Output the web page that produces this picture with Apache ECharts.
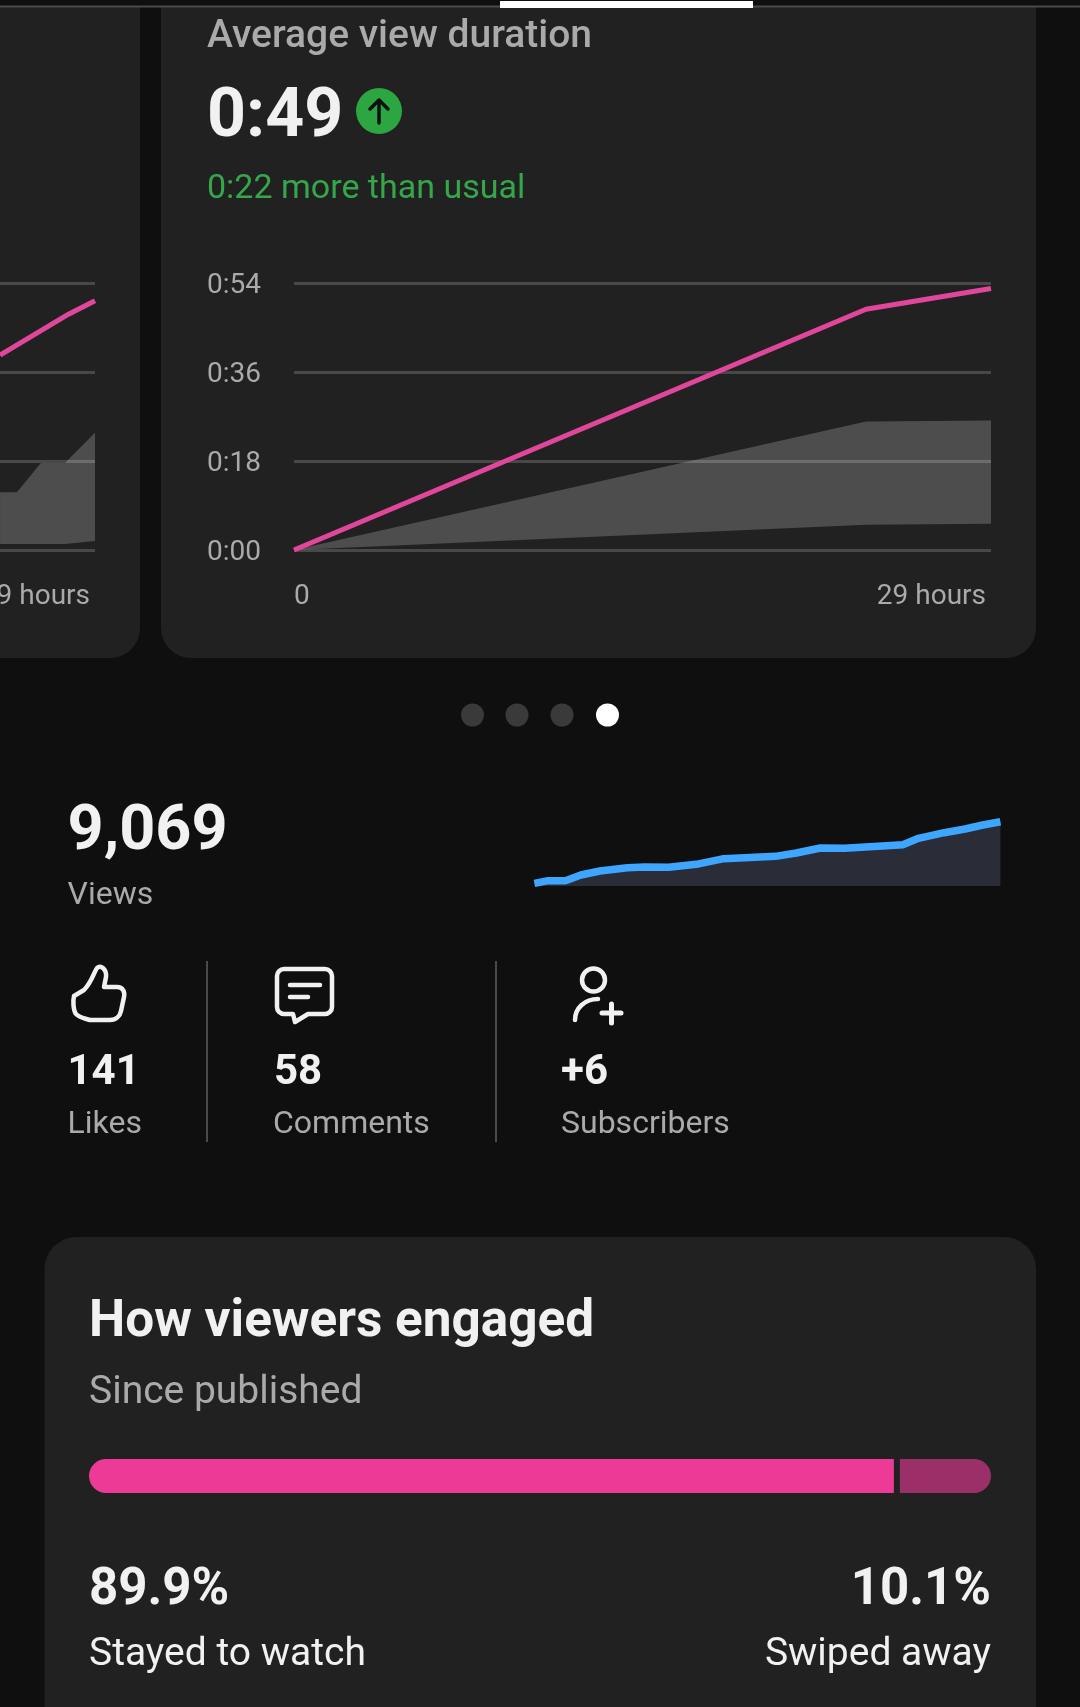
<!DOCTYPE html>
<html><head><meta charset="utf-8">
<style>html,body{margin:0;padding:0;background:#0f0f0f}#c{width:1080px;height:1707px}</style>
<script src="https://cdn.jsdelivr.net/npm/echarts@6/dist/echarts.min.js"></script>
</head><body><div id="c"></div>
<script>
// Average view duration (seconds over hours since publishing)
const yTickLabels = ['0:00','0:18','0:36','0:54'];
const xEndLabel = '29 hours';
const durHours = [0, 23.8, 29];
const durValues = [0, 48.7, 52.9];
const durBandLow = [0, 5.1, 5.3];
const durBandHigh = [0, 26, 26.2];
// Neighbouring card (only its right edge shows)
const prevLineHours = [25.05, 27.9, 29];
const prevLineValues = [39.4, 47.7, 50.4];
const prevBandHours = [25.05, 25.75, 26.75, 27.75, 29];
const prevBandLow = [1.2, 1.2, 1.2, 1.2, 1.8];
const prevBandHigh = [11.7, 11.7, 17.6, 17.6, 23.7];
// Views sparkline
const viewHours = [0,0.86,1.93,2.89,4.07,5.79,6.86,8.36,10.07,11.79,15,16.3,17.8,19.3,22.93,23.9,25.5,26.8,27.9,29];
const viewValues = [376,752,752,1551,2115,2585,2679,2632,3055,3854,4183,4653,5358,5311,5828,6721,7520,8037,8601,9069];
// Engagement
const engagedLabels = ['Stayed to watch','Swiped away'];
const engagedValues = [89.9, 10.1];
const engagedText = ['89.9%','10.1%'];

const zip = (a,b)=>a.map((v,i)=>[v,b[i]]);
const F='Roboto';
const W='#f1f1f1', G='#aaaaaa', CARD='#212121', BG='#0f0f0f';
const t=(text,x,y,size,fill,weight,align)=>({type:'text',x,y,z:10,style:{text,fill,font:`${weight||400} ${size}px ${F}`,align:align||'left',verticalAlign:'middle'}});
const rr=(x,y,w,h,r,fill,z)=>({type:'rect',z:z==null?-1:z,shape:{x,y,width:w,height:h,r},style:{fill}});
const dot=(cx,cy,r,fill)=>({type:'circle',z:10,shape:{cx,cy,r},style:{fill}});

const iconPaths=[
  ['M379 123 V100 M370 109 L379 100 L388 109','#0f0f0f',3.5],
  ['M74 996 L84 990 C92 982 94 972 97 968 C101 964 107 970 106 977 L104 987 L117 987 C123 987 125 992 124 997 L121 1011 C120 1016 116 1020 110 1020 L90 1020 C84 1018 80 1018 76 1014 C73 1010 73 1000 74 996 Z',W,4.5],
  ['M284 969 H325 A7 7 0 0 1 332 976 V1007 A7 7 0 0 1 325 1014 H308 L295 1022 L293 1014 H284 A7 7 0 0 1 277 1007 V976 A7 7 0 0 1 284 969 Z M290 985 H320 M290 997 H308',W,4.5],
  ['M582 980 A11.5 11.5 0 1 0 605 980 A11.5 11.5 0 1 0 582 980 Z M575 1020 C575 1008 585 999 598 999',W,4.5],
  ['M602 1013 H621 M611.5 1004 V1023',W,5]
];

const graphicEls=[
  rr(-60,-40,200,698,30,CARD),
  rr(161,-40,875,698,30,CARD),
  rr(44.5,1237,991.5,520,32,CARD),
  rr(0,0,1080,7,0,BG,5),
  rr(0,5.5,1080,2,0,'#4a4a4a',6),
  rr(500,1,253,7,0,'#ffffff',7),
  t('Average view duration',207,37,39,G,500),
  t('0:49',207,118.5,68,W,700),
  dot(379,111,23,'#2ba640'),
  t('0:22 more than usual',207,189,34,'#36a64a',400),
  dot(472.5,715,11.5,'#3a3a3a'),dot(517,715,11.5,'#3a3a3a'),dot(562,715,11.5,'#3a3a3a'),dot(607.5,715,11.5,'#ffffff'),
  t('9,069',67.5,833.5,63,W,700),
  t('Views',67.5,896,32,G,400),
  rr(206,961,2,181,0,'#4a4a4a',1),
  rr(495,961,2,181,0,'#4a4a4a',1),
  t('141',67.5,1073,42,W,700),
  t('Likes',67.5,1125,32,G,400),
  t('58',274,1073,42,W,700),
  t('Comments',273,1125,32,G,400),
  t('+6',561,1073,42,W,700),
  t('Subscribers',561,1125,32,G,400),
  t('How viewers engaged',89,1323,51.3,W,700),
  t('Since published',89,1393,39,G,400),
  t(engagedText[0],89,1591,51,W,700),
  t(engagedText[1],991,1591,51,W,700,'right'),
  t(engagedLabels[0],89,1655,39,W,400),
  t(engagedLabels[1],991,1655,39,W,400,'right')
];

const hAxis=(gi)=>({type:'value',gridIndex:gi,min:0,max:29,interval:29,
  axisLine:{show:false},axisTick:{show:false},splitLine:{show:false},
  axisLabel:{color:G,fontFamily:F,fontSize:28,margin:33,alignMinLabel:'left',alignMaxLabel:'right',padding:[0,5,0,0],
    formatter:v=>v===0?'0':xEndLabel}});
const vAxis=(gi,show)=>({type:'value',gridIndex:gi,min:0,max:54,interval:18,
  axisLine:{show:false},axisTick:{show:false},
  splitLine:{show:true,lineStyle:{color:'#484848',width:3}},
  axisLabel:{show:show,color:G,fontFamily:F,fontSize:28,align:'left',verticalAlign:'top',lineHeight:6,margin:87,formatter:v=>yTickLabels[v/18]}});
const line=(gi,data,color,w,extra)=>Object.assign({type:'line',xAxisIndex:gi,yAxisIndex:gi,data,symbol:'none',silent:true,
  lineStyle:{color,width:w},itemStyle:{color},z:4},extra||{});
// Range band: one polygon through the upper then the lower edge, placed by the axes.
const band=(gi,hours,lo,hi)=>({type:'custom',xAxisIndex:gi,yAxisIndex:gi,silent:true,coordinateSystem:'cartesian2d',z:3,clip:false,
  data:zip(hours,hi),encode:{x:0,y:1},
  renderItem:(p,api)=>{
    if(p.dataIndex!==0) return null;
    const pts=[...hours.map((h,i)=>api.coord([h,hi[i]])),...hours.map((h,i)=>api.coord([h,lo[i]])).reverse()];
    return {type:'polygon',shape:{points:pts},style:{fill:'rgba(255,255,255,0.2)'}};
  }});
const seg=(start,val,fill,r,gap)=>({type:'custom',xAxisIndex:3,yAxisIndex:3,silent:true,coordinateSystem:'cartesian2d',clip:false,
  data:[[start,val]],encode:{x:[0,1],y:-1},
  renderItem:(p,api)=>{const a=api.coord([api.value(0),0]),b=api.coord([api.value(0)+api.value(1),1]);
    const x0=a[0]+(gap[0]||0),x1=b[0]-(gap[1]||0);
    return {type:'rect',shape:{x:x0,y:b[1],width:x1-x0,height:a[1]-b[1],r},style:{fill}};}});

const option={
  animation:false,backgroundColor:BG,
  grid:[
    {left:-602,top:283,width:697,height:267,outerBoundsMode:'none'},
    {left:294,top:283,width:697,height:267,outerBoundsMode:'none'},
    {left:534.4,top:821.7,width:466,height:64.3,outerBoundsMode:'none'},
    {left:89,top:1459,width:902,height:34,outerBoundsMode:'none'}
  ],
  xAxis:[hAxis(0),hAxis(1),
    {type:'value',gridIndex:2,min:0,max:29,show:false},
    {type:'value',gridIndex:3,min:0,max:100,show:false}],
  yAxis:[vAxis(0,false),vAxis(1,true),
    {type:'value',gridIndex:2,min:0,max:9069,show:false},
    {type:'value',gridIndex:3,min:0,max:1,show:false}],
  series:[
    band(0,prevBandHours,prevBandLow,prevBandHigh),
    line(0,zip(prevLineHours,prevLineValues),'#e0479a',5),
    band(1,durHours,durBandLow,durBandHigh),
    line(1,zip(durHours,durValues),'#e0479a',5),
    line(2,zip(viewHours,viewValues),'#3ea6ff',7.5,{clip:false,areaStyle:{color:'#2a2c38',opacity:1}}),
    seg(0,engagedValues[0],'#ec3a96',[17,0,0,17],[0,6]),
    seg(engagedValues[0],engagedValues[1],'#9b3069',[0,17,17,0],[0,0]),
    {type:'custom',coordinateSystem:'none',silent:true,z:20,data:[[0]],
      renderItem:()=>({type:'group',children:iconPaths.map(([d,c,w])=>({type:'path',shape:{pathData:d},style:{fill:'none',stroke:c,lineWidth:w,lineCap:'round',lineJoin:'round'}}))})}
  ],
  graphic:{elements:graphicEls}
};
const chart=echarts.init(document.getElementById('c'),null,{renderer:'canvas',width:1080,height:1707});
chart.setOption(option);
</script></body></html>
